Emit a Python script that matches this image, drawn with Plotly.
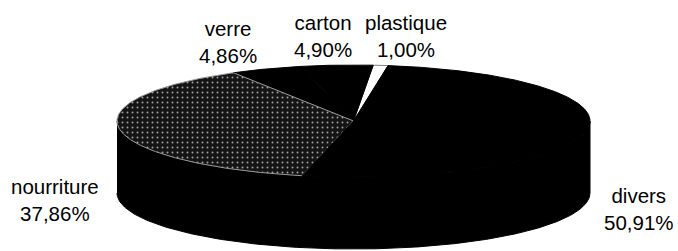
import numpy as np
import plotly.graph_objects as go

# ---- data ----
categories = ["plastique", "carton", "verre", "nourriture", "divers"]
values = [1.00, 4.90, 4.86, 37.86, 50.91]
value_labels = ["1,00%", "4,90%", "4,86%", "37,86%", "50,91%"]
top_colors = ["#ffffff", "#000000", "#000000", "#141414", "#000000"]

# ---- geometry (layout) ----
W, H = 678, 251
cx, cy = 353.5, 121.0
a, b = 236.5, 56.0
depth = 72.0
start_deg = 81.6  # parametric angle where the first slice starts, counter-clockwise

def ell(t_deg, dy=0.0):
    t = np.radians(t_deg)
    return cx + a * np.cos(t), cy - b * np.sin(t) + dy

fig = go.Figure()

# cylinder side (front half)
ts = np.linspace(180, 360, 200)
xs_top, ys_top = ell(ts)
xs_bot, ys_bot = ell(ts[::-1], depth)
fig.add_trace(go.Scatter(
    x=np.concatenate([xs_top, xs_bot]), y=np.concatenate([ys_top, ys_bot]),
    fill="toself", mode="lines", line=dict(color="#000000", width=1),
    fillcolor="#000000", hoverinfo="skip", showlegend=False))

# top slices
total = sum(values)
ang = start_deg
slice_ranges = []
for v in values:
    span = v / total * 360.0
    slice_ranges.append((ang, ang + span))
    ang += span

for (t0, t1), col, name in zip(slice_ranges, top_colors, categories):
    tt = np.linspace(t0, t1, max(8, int((t1 - t0) * 2)))
    ex, ey = ell(tt)
    px = np.concatenate([[cx], ex, [cx]])
    py = np.concatenate([[cy], ey, [cy]])
    kw = {}
    if col == "#ffffff":
        lc, lw = "#000000", 0.5
    elif col == "#000000":
        lc, lw = "#000000", 1
    else:
        lc, lw = "#9a9a9a", 1
        kw["fillpattern"] = dict(shape=".", bgcolor="#141414", fgcolor="#a0a0a0",
                                 size=5, solidity=0.12, fillmode="replace")
    fig.add_trace(go.Scatter(
        x=px, y=py, fill="toself", mode="lines",
        line=dict(color=lc, width=lw), fillcolor=col,
        name=name, hoverinfo="skip", showlegend=False, **kw))

# labels
label_pos = {
    "plastique": (406, 36),
    "carton": (323, 36),
    "verre": (228, 42),
    "nourriture": (55, 200),
    "divers": (639, 209),
}
for cat, lab in zip(categories, value_labels):
    x, y = label_pos[cat]
    fig.add_annotation(x=x, y=y, xref="x", yref="y", text=f"{cat}<br>{lab}",
                       showarrow=False, xanchor="center", yanchor="middle",
                       align="center",
                       font=dict(family="Liberation Sans, Arial", size=20.5, color="#000000"))

fig.update_layout(
    width=W, height=H, margin=dict(l=0, r=0, t=0, b=0),
    paper_bgcolor="#ffffff", plot_bgcolor="#ffffff",
    xaxis=dict(range=[0, W], visible=False, fixedrange=True),
    yaxis=dict(range=[H, 0], visible=False, fixedrange=True),
)
fig.write_html("out.html", config={"displayModeBar": False, "staticPlot": True},
               post_script="document.body.style.margin='0';document.body.style.overflow='hidden';")
